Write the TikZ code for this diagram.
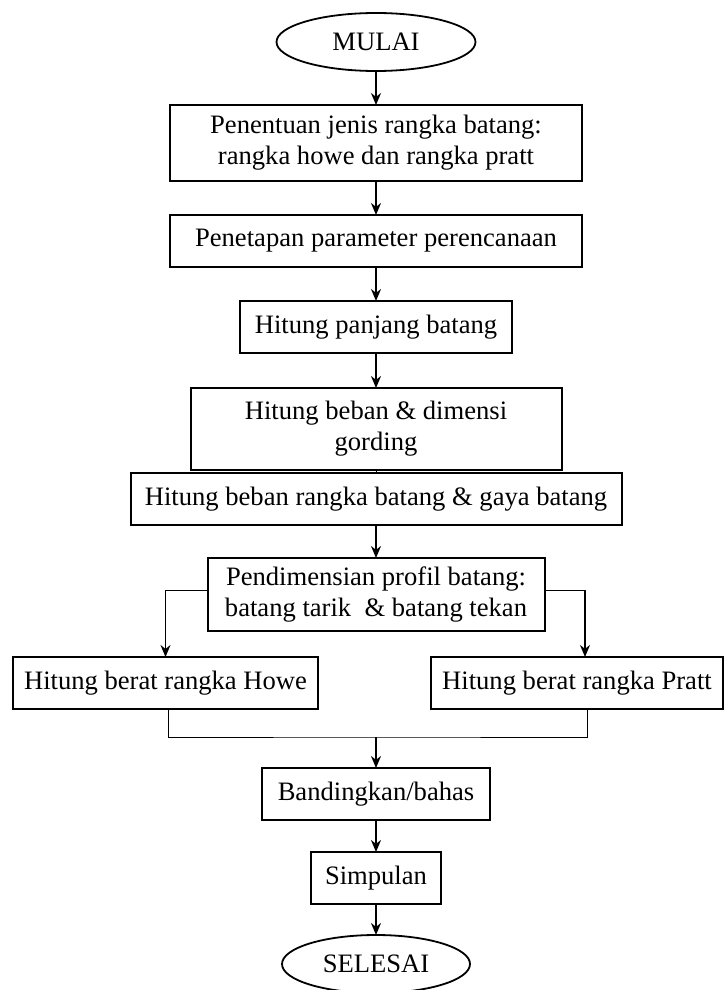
\documentclass[tikz,border=0pt]{standalone}
\usepackage{fontspec}
\setmainfont{Liberation Serif}
\usetikzlibrary{positioning, shapes.geometric, arrows.meta}

\begin{document}
\begin{tikzpicture}[x=0.5pt, y=-0.5pt,
	proses/.style={rectangle, draw, line width=1pt, align=center, inner sep=0pt, outer sep=0pt, minimum height=26pt, font=\fontsize{13.3}{15.5}\selectfont},
	terminal/.style={ellipse, draw, line width=0.9pt, inner sep=0pt, outer sep=0pt, minimum width=99.5pt, minimum height=29pt, font=\fontsize{13.3}{15.5}\selectfont},
	panah/.style={-{Stealth[length=6pt, width=5pt]}, line width=0.8pt}]
	\useasboundingbox (0,0) rectangle (724,990);
	
	% Alur utama
	\node[terminal] (mulai) at (376,42) {MULAI};
	\node[proses, minimum width=206pt, minimum height=38pt, below=17pt of mulai] (jenis) {Penentuan jenis rangka batang:\\rangka howe dan rangka pratt};
	\node[proses, minimum width=206pt, below=17pt of jenis] (parameter) {Penetapan parameter perencanaan};
	\node[proses, minimum width=136pt, below=17pt of parameter] (panjang) {Hitung panjang batang};
	\node[proses, minimum width=185.5pt, minimum height=41pt, below=17.5pt of panjang] (gording) {Hitung beban \& dimensi\\gording};
	\node[proses, minimum width=245.5pt, below=1.5pt of gording] (gaya) {Hitung beban rangka batang \& gaya batang};
	\node[proses, minimum width=168.5pt, minimum height=36.5pt, below=16.5pt of gaya] (profil) {Pendimensian profil batang:\\batang tarik\ \ \& batang tekan};
	
	% Percabangan Howe / Pratt
	\node[proses, minimum width=152.5pt, below=13pt of profil, xshift=-105.25pt] (howe) {Hitung berat rangka Howe};
	\node[proses, minimum width=146pt, below=13pt of profil, xshift=100.5pt] (pratt) {Hitung berat rangka Pratt};
	
	\node[proses, minimum width=114pt, below=68.5pt of profil] (banding) {Bandingkan/bahas};
	\node[proses, minimum width=65pt, below=16pt of banding] (simpulan) {Simpulan};
	\node[terminal, minimum width=94pt, below=15.5pt of simpulan] (selesai) {SELESAI};
	
	\draw[panah] (mulai) -- (jenis);
	\draw[panah] (jenis) -- (parameter);
	\draw[panah] (parameter) -- (panjang);
	\draw[panah] (panjang) -- (gording);
	\draw (gording) -- (gaya);
	\draw[panah] (gaya) -- (profil);
	
	\draw[panah] ([yshift=2pt]profil.west) -| (howe);
	\draw[panah] ([yshift=2pt]profil.east) -| ([xshift=4pt]pratt.north);
	
	% Gabungan ke perbandingan
	\coordinate[above=15.5pt of banding] (gabung);
	\draw ([xshift=1.25pt]howe.south) |- (gabung) -| ([xshift=5pt]pratt.south);
	\draw[panah] (gabung) -- (banding);
	\draw[panah] (banding) -- (simpulan);
	\draw[panah] (simpulan) -- (selesai);
\end{tikzpicture}
\end{document}
